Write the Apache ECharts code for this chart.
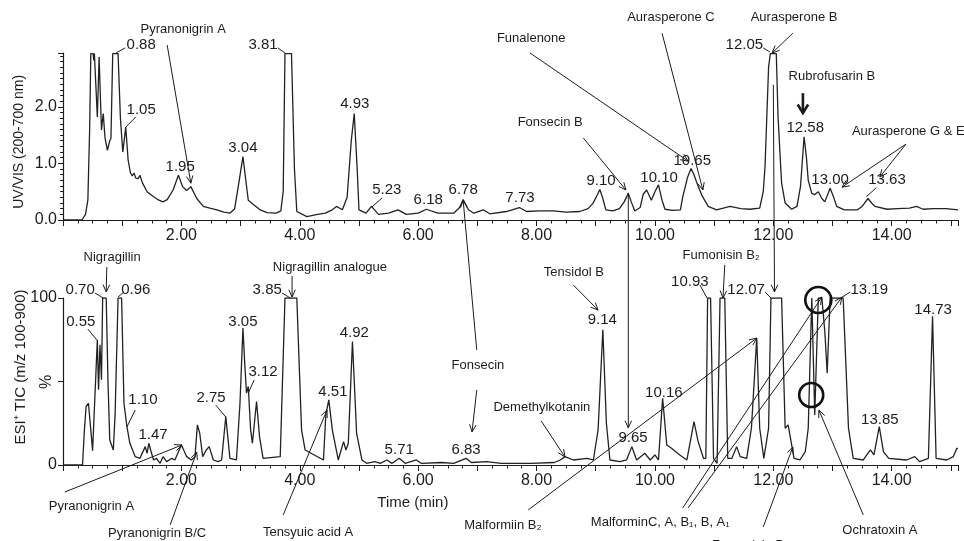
<!DOCTYPE html>
<html>
<head>
<meta charset="utf-8">
<script src="https://cdn.jsdelivr.net/npm/echarts/dist/echarts.min.js"></script>
<style>html,body{margin:0;padding:0;background:#fff}#main{width:964px;height:541px}</style>
</head>
<body>
<div id="main"></div>
<script>
// ---------- DATA ----------
const uvTime = [0.00,0.32,0.38,0.42,0.45,0.47,0.51,0.52,0.53,0.56,0.58,0.61,0.65,0.68,0.71,0.75,0.79,0.81,0.84,0.93,0.97,1.01,1.06,1.10,1.14,1.17,1.20,1.23,1.27,1.30,1.34,1.42,1.53,1.62,1.69,1.76,1.86,1.95,2.02,2.09,2.16,2.26,2.37,2.48,2.60,2.72,2.82,2.90,2.97,3.04,3.10,3.13,3.21,3.33,3.45,3.60,3.68,3.72,3.75,3.86,3.91,3.95,4.12,4.30,4.43,4.55,4.62,4.72,4.80,4.87,4.92,4.97,5.00,5.12,5.21,5.33,5.50,5.66,5.80,6.00,6.14,6.33,6.60,6.70,6.76,6.85,6.94,7.10,7.21,7.49,7.71,7.83,8.05,8.28,8.50,8.73,8.87,8.95,9.03,9.07,9.12,9.17,9.29,9.40,9.48,9.55,9.60,9.66,9.75,9.80,9.86,9.94,10.00,10.06,10.12,10.17,10.30,10.43,10.47,10.55,10.61,10.66,10.70,10.79,10.90,11.04,11.27,11.45,11.60,11.77,11.83,11.86,11.92,11.95,12.05,12.08,12.14,12.20,12.31,12.40,12.46,12.52,12.56,12.59,12.65,12.70,12.76,12.82,12.87,12.96,13.02,13.07,13.20,13.42,13.50,13.60,13.66,13.72,13.92,14.10,14.30,14.42,14.53,14.70,14.92,15.12];
const uvAbs  = [0.00,0.00,0.10,0.35,1.60,2.94,2.94,2.82,2.94,2.94,1.82,2.88,1.59,1.88,1.45,1.23,1.40,1.44,2.94,2.94,1.80,1.20,1.64,1.06,0.83,0.78,0.83,0.74,0.73,0.79,0.66,0.50,0.41,0.35,0.32,0.36,0.53,0.79,0.59,0.52,0.59,0.38,0.24,0.21,0.18,0.14,0.12,0.20,0.65,1.12,0.60,0.35,0.28,0.18,0.13,0.12,0.16,0.50,2.94,2.94,0.90,0.15,0.06,0.10,0.12,0.18,0.24,0.18,0.40,1.40,1.88,0.90,0.18,0.12,0.24,0.10,0.12,0.18,0.10,0.12,0.19,0.12,0.12,0.22,0.36,0.18,0.12,0.18,0.11,0.15,0.22,0.15,0.16,0.16,0.14,0.15,0.20,0.29,0.45,0.54,0.38,0.18,0.16,0.20,0.32,0.47,0.32,0.16,0.22,0.45,0.53,0.35,0.50,0.62,0.35,0.19,0.17,0.18,0.41,0.75,0.91,0.80,0.68,0.44,0.24,0.18,0.24,0.20,0.19,0.21,0.50,0.94,2.70,2.94,2.94,1.82,0.65,0.30,0.19,0.24,0.60,1.47,1.10,0.70,0.47,0.45,0.50,0.38,0.32,0.56,0.40,0.24,0.18,0.18,0.24,0.38,0.30,0.24,0.19,0.20,0.21,0.24,0.19,0.20,0.20,0.18];

const ticTime = [0.00,0.33,0.36,0.39,0.43,0.46,0.50,0.55,0.58,0.60,0.625,0.65,0.67,0.73,0.76,0.79,0.85,0.88,0.93,0.99,1.03,1.08,1.13,1.22,1.30,1.39,1.42,1.45,1.48,1.53,1.58,1.64,1.69,1.75,1.84,1.89,2.00,2.09,2.17,2.23,2.27,2.31,2.36,2.42,2.47,2.54,2.62,2.68,2.75,2.82,2.93,2.99,3.04,3.07,3.10,3.13,3.17,3.20,3.27,3.32,3.38,3.67,3.75,3.95,4.03,4.09,4.40,4.44,4.49,4.55,4.65,4.74,4.78,4.82,4.89,4.96,5.05,5.13,5.27,5.36,5.47,5.56,5.68,5.78,5.97,6.05,6.40,6.60,6.81,6.90,7.16,7.40,7.90,8.30,8.40,8.48,8.62,8.85,8.96,9.04,9.12,9.18,9.24,9.41,9.52,9.61,9.69,9.83,9.92,10.00,10.06,10.13,10.20,10.28,10.42,10.54,10.66,10.73,10.82,10.86,10.89,10.94,10.99,11.05,11.10,11.18,11.23,11.30,11.38,11.44,11.55,11.63,11.72,11.77,11.84,11.92,11.96,12.14,12.20,12.25,12.31,12.35,12.45,12.54,12.59,12.65,12.68,12.70,12.76,12.82,12.87,12.91,12.96,13.18,13.27,13.35,13.52,13.64,13.70,13.79,13.86,13.95,14.25,14.39,14.47,14.62,14.69,14.75,14.93,15.04,15.10,15.12];
const ticPct  = [0,0,20,35,37,25,8.6,50,75,45,72,51,100,100,50,15,9,30,100,100,37,23,13,5,4,11,7,13,9,3,4,1,5,2,4,3,12,5,3,5,24,19,5,9,11,3,2,3,29,4,3,37,82,61,43,47,21,13,38,17,4,5,100,100,21,9,3,30,39,21,3,14,9,13,74,19,3,1,2,1,3,1,4,1,3,1,1.5,1,4,1.5,2,1,1,1.5,3,5,3,4,3,21,81,25,3,2,3,11,3,7,3,6,3,40,12,10,6,3,26,14,4,4,100,100,4,1,100,100,4,4,11,5,4,22,76,22,4,22,100,100,22,24,12,4,3,8,22,100,100,30,100,100,80,55,100,100,22,4,3,9,6,23,8,4,3,5,2,4,89,4,3,5,10,10];

const timeTicks = [2, 4, 6, 8, 10, 12, 14];       // labelled minutes
const uvTicks = [0, 1, 2];                          // labelled UV values
const ticTicks = [0, 100];                          // labelled TIC values

// ---------- ANNOTATIONS (anchored in data coordinates of a grid) ----------
const NAME = 13, NUM = 15;
const noteTexts = [
  [0,2.03,3.36,'Pyranonigrin A',NAME],[0,1.32,3.09,'0.88',NUM],[0,1.32,1.94,'1.05',NUM],
  [0,1.98,0.94,'1.95',NUM],[0,3.04,1.27,'3.04',NUM],[0,3.38,3.09,'3.81',NUM],
  [0,4.93,2.05,'4.93',NUM],[0,5.47,0.53,'5.23',NUM],[0,6.17,0.35,'6.18',NUM],
  [0,6.76,0.53,'6.78',NUM],[0,7.72,0.39,'7.73',NUM],[0,7.91,3.20,'Funalenone',NAME],
  [0,8.23,1.73,'Fonsecin B',NAME],[0,9.09,0.69,'9.10',NUM],[0,10.07,0.74,'10.10',NUM],
  [0,10.63,1.04,'10.65',NUM],[0,10.27,3.57,'Aurasperone C',NAME],[0,12.35,3.57,'Aurasperone B',NAME],
  [0,11.51,3.09,'12.05',NUM],[0,12.99,2.54,'Rubrofusarin B',NAME],[0,12.54,1.63,'12.58',NUM],
  [0,12.96,0.71,'13.00',NUM],[0,13.92,0.71,'13.63',NUM],[0,14.28,1.57,'Aurasperone G & E',NAME],
  [1,7.01,59.9,'Fonsecin',NAME],[1,0.83,124,'Nigragillin',NAME],[1,0.29,104.8,'0.70',NUM],
  [1,1.23,104.8,'0.96',NUM],[1,0.30,85.6,'0.55',NUM],[1,1.35,38.9,'1.10',NUM],
  [1,1.52,18.0,'1.47',NUM],[1,0.48,-25.1,'Pyranonigrin A',NAME],[1,1.59,-40.7,'Pyranonigrin B/C',NAME],
  [1,2.50,40.1,'2.75',NUM],[1,3.04,85.6,'3.05',NUM],[1,3.38,55.7,'3.12',NUM],
  [1,3.45,104.8,'3.85',NUM],[1,4.51,118.6,'Nigragillin analogue',NAME],[1,4.56,43.7,'4.51',NUM],
  [1,4.14,-40.1,'Tensyuic acid A',NAME],[1,4.92,79.0,'4.92',NUM],[1,5.68,9.0,'5.71',NUM],
  [1,6.81,9.0,'6.83',NUM],[1,8.63,115.6,'Tensidol B',NAME],[1,9.11,86.8,'9.14',NUM],
  [1,8.09,34.7,'Demethylkotanin',NAME],[1,9.63,16.2,'9.65',NUM],[1,7.43,-35.9,'Malformiin B₂',NAME],
  [1,10.15,43.1,'10.16',NUM],[1,10.59,109.6,'10.93',NUM],[1,11.12,125.7,'Fumonisin B₂',NAME],
  [1,11.54,104.8,'12.07',NUM],[1,13.62,104.8,'13.19',NUM],[1,14.70,92.8,'14.73',NUM],
  [1,13.80,26.9,'13.85',NUM],[1,10.09,-34.1,'MalforminC, A, B₁, B, A₁',NAME],
  [1,13.80,-38.9,'Ochratoxin A',NAME],[1,11.61,-47.9,'Fumonisin B₁',NAME],
  [1,5.91,-22.8,'Time (min)',15]
];
// [from, to, kind]  kind 0 = plain leader, 1 = arrow, 2 = bold arrow
const noteLines = [
  [[0,1.76,3.09],[0,2.16,0.65],1],[[0,0.895,2.95],[0,1.05,3.04],0],[[0,1.06,1.64],[0,1.23,1.82],0],
  [[0,3.63,3.04],[0,3.75,2.95],0],[[0,5.22,0.23],[0,5.39,0.39],0],[[0,7.89,2.95],[0,10.56,1.04],1],
  [[0,8.79,1.45],[0,9.51,0.53],1],[[0,10.12,3.30],[0,10.81,0.53],1],[[0,12.33,3.30],[0,11.98,2.95],1],
  [[0,11.83,3.04],[0,11.94,2.97],0],[[0,12.50,2.24],[0,12.50,1.89],2],[[0,13.57,0.41],[0,13.74,0.57],0],
  [[0,14.24,1.34],[0,13.16,0.58],1],[[0,14.24,1.34],[0,13.80,0.76],1],
  [[0,12.0,2.39],[1,12.02,103.6],1],[[0,9.55,0.48],[1,9.55,22.2],1],
  [[1,6.99,68.9],[0,6.76,0.35],1],[[1,6.99,44.9],[1,6.91,19.8],1],
  [[1,0.74,118.6],[1,0.73,103.6],1],[[1,0.54,103],[1,0.68,100],0],[[1,0.93,100.6],[1,1.03,103.6],0],
  [[1,0.42,81.4],[1,0.57,74.9],0],[[1,1.08,22.8],[1,1.22,32.9],0],[[1,0.03,-16.2],[1,2.01,12.0],1],
  [[1,1.81,-35.9],[1,2.26,7.8],1],[[1,2.58,35.9],[1,2.75,28.7],0],[[1,3.13,43.1],[1,3.23,50.9],0],
  [[1,3.70,103],[1,3.84,100],0],[[1,3.87,113.2],[1,3.87,100.6],1],[[1,3.72,-29.9],[1,4.46,32.9],1],
  [[1,8.62,107.8],[1,9.04,92.8],1],[[1,8.08,26.3],[1,8.48,4.8],1],[[1,7.86,-26.9],[1,11.72,76.0],1],
  [[1,10.76,107.8],[1,10.88,100],0],[[1,11.18,119.8],[1,11.15,100],1],[[1,11.86,103.6],[1,11.96,100],0],
  [[1,13.30,103.6],[1,13.14,100],0],[[1,10.47,-25.7],[1,12.82,100.6],1],[[1,10.56,-25.7],[1,13.16,100.6],1],
  [[1,13.52,-29.9],[1,12.77,32.9],1],[[1,11.83,-37.1],[1,12.33,10.8],1]
];
const noteCircles = [[1,12.76,98.8,13],[1,12.64,41.9,12]];

// ---------- CHART ----------
const FONT = '"Liberation Sans", Arial, Helvetica, sans-serif';
const INK = '#1c1c1c';
const zip = (a, b) => a.map((x, i) => [x, b[i]]);

function xAxisCfg(gi) {
  return {
    type: 'value', gridIndex: gi, min: 0, max: 15.12, interval: 1,
    axisLine: { show: true, onZero: false, lineStyle: { color: INK, width: 1.2 } },
    axisTick: { show: true, length: 6, lineStyle: { color: INK, width: 1 } },
    minorTick: { show: true, splitNumber: 4, length: 3.5, lineStyle: { color: INK, width: 1 } },
    splitLine: { show: false },
    axisLabel: {
      color: INK, fontSize: 16, fontFamily: FONT, margin: 8,
      showMinLabel: true, showMaxLabel: true,
      formatter: v => timeTicks.includes(Math.round(v * 100) / 100) ? v.toFixed(2) : ''
    }
  };
}

const chart = echarts.init(document.getElementById('main'), null, { renderer: 'canvas' });
chart.setOption({
  animation: false,
  backgroundColor: '#fff',
  grid: [
    { left: 63, right: 6, top: 53, height: 167 },
    { left: 63, right: 6, top: 298, height: 167 }
  ],
  xAxis: [xAxisCfg(0), xAxisCfg(1)],
  yAxis: [
    {
      type: 'value', gridIndex: 0, min: 0, max: 2.95, interval: 1,
      axisLine: { show: true, lineStyle: { color: INK, width: 1.2 } },
      axisTick: { show: true, length: 5, lineStyle: { color: INK } },
      minorTick: { show: true, splitNumber: 10, length: 3, lineStyle: { color: INK } },
      splitLine: { show: false },
      axisLabel: { color: INK, fontSize: 16, fontFamily: FONT, margin: 6,
        formatter: v => uvTicks.includes(v) ? v.toFixed(1) : '' }
    },
    {
      type: 'value', gridIndex: 1, min: 0, max: 100, interval: 50,
      axisLine: { show: true, lineStyle: { color: INK, width: 1.2 } },
      axisTick: { show: true, length: 5, lineStyle: { color: INK } },
      splitLine: { show: false },
      axisLabel: { color: INK, fontSize: 16, fontFamily: FONT, margin: 6,
        formatter: v => ticTicks.includes(v) ? String(v) : '' }
    }
  ],
  series: [
    { name: 'UV/VIS', type: 'line', xAxisIndex: 0, yAxisIndex: 0, data: zip(uvTime, uvAbs),
      showSymbol: false, symbol: 'none', lineStyle: { color: '#222', width: 1.3 } },
    { name: 'ESI+ TIC', type: 'line', xAxisIndex: 1, yAxisIndex: 1, data: zip(ticTime, ticPct),
      showSymbol: false, symbol: 'none', lineStyle: { color: '#222', width: 1.3 } }
  ]
});

// ---------- annotation graphics ----------
const P = (g, x, y) => chart.convertToPixel({ gridIndex: g }, [x, y]);
const els = [];
noteTexts.forEach(([g, x, y, t, s]) => {
  const p = P(g, x, y);
  els.push({ type: 'text', z: 100, x: p[0], y: p[1],
    style: { text: t, x: 0, y: 0, align: 'center', verticalAlign: 'middle', fill: INK, fontSize: s, fontFamily: FONT } });
});
noteLines.forEach(([a, b, kind]) => {
  const p1 = P(a[0], a[1], a[2]), p2 = P(b[0], b[1], b[2]);
  const w = kind === 2 ? 2.6 : 1;
  els.push({ type: 'line', z: 100, shape: { x1: p1[0], y1: p1[1], x2: p2[0], y2: p2[1] },
    style: { stroke: INK, lineWidth: w } });
  if (kind > 0) {
    const ang = Math.atan2(p2[1] - p1[1], p2[0] - p1[0]);
    const L = kind === 2 ? 10 : 8, th = kind === 2 ? 0.55 : 0.42;
    const q1 = [p2[0] - L * Math.cos(ang - th), p2[1] - L * Math.sin(ang - th)];
    const q2 = [p2[0] - L * Math.cos(ang + th), p2[1] - L * Math.sin(ang + th)];
    els.push({ type: 'polyline', z: 100, shape: { points: [q1, p2, q2] },
      style: { stroke: INK, fill: 'none', lineWidth: w } });
  }
});
noteCircles.forEach(([g, x, y, r]) => {
  const p = P(g, x, y);
  els.push({ type: 'circle', z: 100, shape: { cx: p[0], cy: p[1], r: r },
    style: { fill: 'none', stroke: '#111', lineWidth: 2.6 } });
});
// axis titles and the "%" unit (rotated)
[[0, -0.74, 1.38, 'UV/VIS (200-700 nm)', 14], [1, -0.71, 58.7, 'ESI⁺ TIC (m/z 100-900)', 15], [1, -0.27, 49.7, '%', 16]]
  .forEach(([g, x, y, t, s]) => {
    const p = P(g, x, y);
    els.push({ type: 'text', z: 100, x: p[0], y: p[1], rotation: Math.PI / 2,
      style: { text: t, x: 0, y: 0, align: 'center', verticalAlign: 'middle', fill: INK, fontSize: s, fontFamily: FONT } });
  });
chart.setOption({ graphic: { elements: els } });
</script>
</body>
</html>
